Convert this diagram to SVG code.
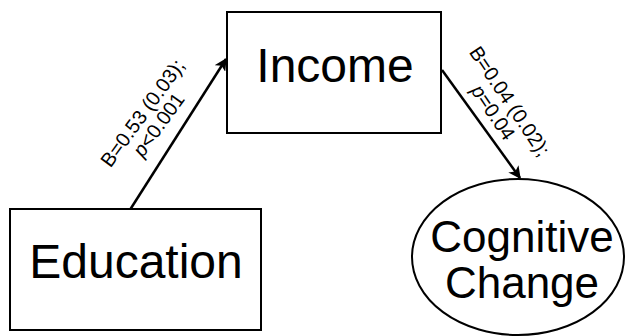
<svg xmlns="http://www.w3.org/2000/svg" width="625" height="336" viewBox="0 0 625 336">
<style>
.box{fill:#fff;stroke:#000;stroke-width:2}
.big{font-family:"Liberation Sans",Arial,sans-serif;font-size:48px;fill:#000;text-anchor:middle}
.mid{font-family:"Liberation Sans",Arial,sans-serif;font-size:44px;fill:#000;text-anchor:middle}
.lbl{font-family:"Liberation Sans",Arial,sans-serif;font-size:20px;fill:#000;text-anchor:middle}
.edge{stroke:#000;stroke-width:2.5;fill:none;marker-end:url(#ah)}
</style>
<defs>
<marker id="ah" viewBox="0 0 10 10" refX="9" refY="5" markerWidth="5" markerHeight="5" orient="auto" markerUnits="strokeWidth">
<path d="M0,0 L10,5 L0,10 L2.5,5 Z" fill="#000"/>
</marker>
</defs>
<rect width="625" height="336" fill="#fff"/>
<g id="connectors">
<line class="edge" x1="130.5" y1="209" x2="226" y2="59"/>
<line class="edge" x1="442" y1="70" x2="520" y2="178"/>
<g transform="translate(148,117) rotate(-54)">
<text class="lbl" x="0" y="0">B=0.53 (0.03);</text>
<text class="lbl" x="0" y="20"><tspan font-style="italic">p</tspan>&lt;0.001</text>
</g>
<g transform="translate(504,105) rotate(56)">
<text class="lbl" x="0" y="0">B=0.04 (0.02);</text>
<text class="lbl" x="0" y="20"><tspan font-style="italic">p</tspan>=0.04</text>
</g>
</g>
<g id="education">
<rect class="box" x="10" y="209" width="251" height="121"/>
<text class="big" x="136" y="278">Education</text>
</g>
<g id="income">
<rect class="box" x="227" y="12" width="214" height="121"/>
<text class="big" x="335" y="82">Income</text>
</g>
<g id="cognitive-change">
<ellipse class="box" cx="518" cy="257" rx="106" ry="78"/>
<text class="mid" x="522" y="252">Cognitive</text>
<text class="mid" x="522" y="298">Change</text>
</g>
</svg>
